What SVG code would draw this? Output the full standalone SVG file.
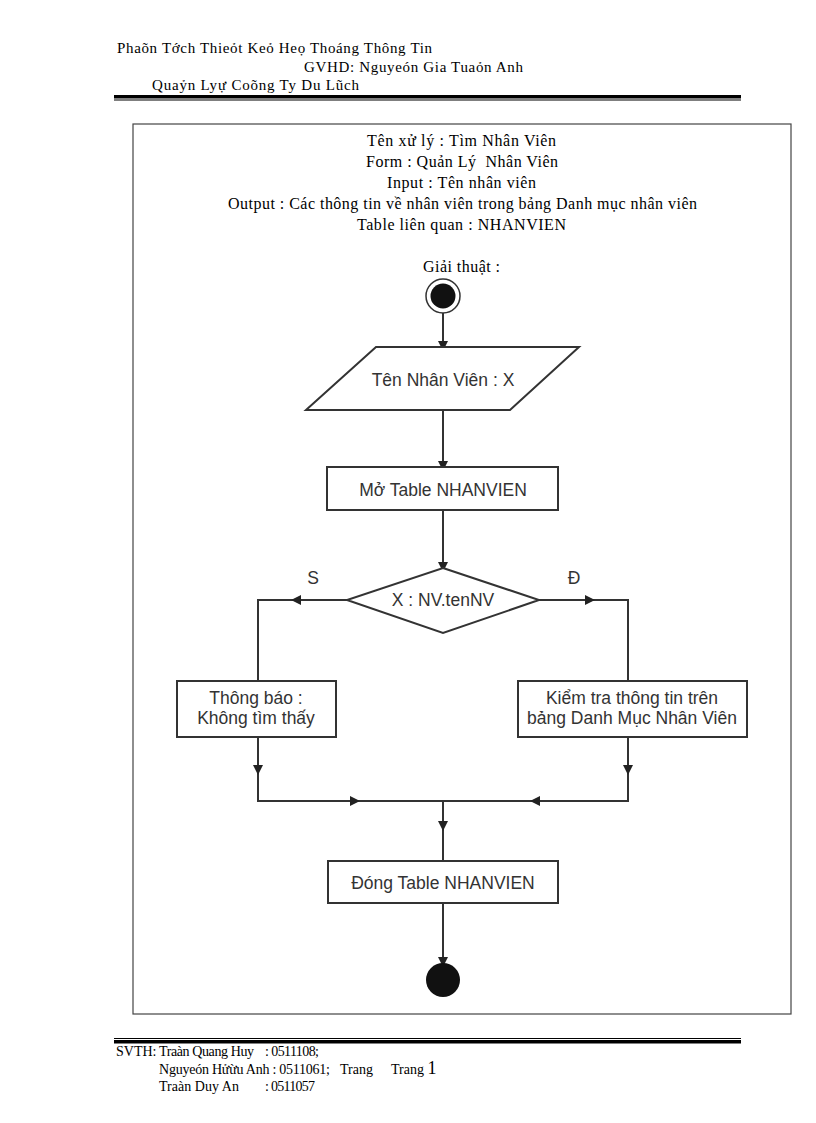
<svg xmlns="http://www.w3.org/2000/svg" width="816" height="1123" viewBox="0 0 816 1123">
<style>
text{white-space:pre}
.hd{font-family:"Liberation Serif","Times New Roman",serif;font-size:15px;fill:#000}
.ft{font-family:"Liberation Serif","Times New Roman",serif;font-size:14px;fill:#000}
.ti{font-family:"Liberation Serif","Times New Roman",serif;font-size:16px;fill:#000}
.nt{font-family:"Liberation Sans",Arial,sans-serif;font-size:17.5px;fill:#333;text-anchor:middle}
.sh{fill:#fff;stroke:#333;stroke-width:2}
.ln{fill:none;stroke:#333;stroke-width:2}
</style>
<defs>
<marker id="ah" viewBox="0 0 10 10" refX="5" refY="5" markerWidth="10" markerHeight="10" markerUnits="userSpaceOnUse" orient="auto">
<path d="M0,0 L10,5 L0,10 z" fill="#222"/>
</marker>
</defs>
<rect width="816" height="1123" fill="#fff"/>
<g id="header">
<text class="hd" x="117" y="53" textLength="315" lengthAdjust="spacing">Phaõn Tớch Thieỏt Keỏ Heọ Thoáng Thông Tin</text>
<text class="hd" x="304" y="72" textLength="219" lengthAdjust="spacing">GVHD: Nguyeón Gia Tuaỏn Anh</text>
<text class="hd" x="152" y="90" textLength="207" lengthAdjust="spacing">Quaỷn Lyự Coõng Ty Du Lũch</text>
<rect x="114" y="95" width="627" height="3.5" fill="#000"/>
<rect x="114" y="99.5" width="627" height="1" fill="#000"/>
</g>
<rect id="frame" x="133" y="124" width="658" height="890" fill="none" stroke="#444" stroke-width="1.2"/>
<g id="title">
<text class="ti" x="367" y="146" textLength="189" lengthAdjust="spacing">Tên xử lý : Tìm Nhân Viên</text>
<text class="ti" x="366" y="167" textLength="192" lengthAdjust="spacing">Form : Quản Lý  Nhân Viên</text>
<text class="ti" x="387" y="188" textLength="149" lengthAdjust="spacing">Input : Tên nhân viên</text>
<text class="ti" x="228" y="209" textLength="469" lengthAdjust="spacing">Output : Các thông tin về nhân viên trong bảng Danh mục nhân viên</text>
<text class="ti" x="357" y="230" textLength="209" lengthAdjust="spacing">Table liên quan : NHANVIEN</text>
<text class="ti" x="423" y="272" textLength="77" lengthAdjust="spacing">Giải thuật :</text>
</g>
<g id="connectors">
<line class="ln" x1="443" y1="313" x2="443" y2="346" marker-end="url(#ah)"/>
<line class="ln" x1="443" y1="410" x2="443" y2="466" marker-end="url(#ah)"/>
<line class="ln" x1="443" y1="510" x2="443" y2="567" marker-end="url(#ah)"/>
<path class="ln" d="M347,600 H258 V681"/>
<line class="ln" x1="347" y1="600" x2="296" y2="600" marker-end="url(#ah)"/>
<path class="ln" d="M539,600 H628 V681"/>
<line class="ln" x1="539" y1="600" x2="590" y2="600" marker-end="url(#ah)"/>
<path class="ln" d="M258,737 V801 H443"/>
<line class="ln" x1="258" y1="737" x2="258" y2="770" marker-end="url(#ah)"/>
<line class="ln" x1="258" y1="801" x2="355" y2="801" marker-end="url(#ah)"/>
<path class="ln" d="M628,737 V801 H443"/>
<line class="ln" x1="628" y1="737" x2="628" y2="770" marker-end="url(#ah)"/>
<line class="ln" x1="628" y1="801" x2="535" y2="801" marker-end="url(#ah)"/>
<line class="ln" x1="443" y1="801" x2="443" y2="861"/>
<line class="ln" x1="443" y1="801" x2="443" y2="826" marker-end="url(#ah)"/>
<line class="ln" x1="443" y1="903" x2="443" y2="962" marker-end="url(#ah)"/>
</g>
<g id="start">
<circle cx="443" cy="296" r="17" fill="#fff" stroke="#333" stroke-width="1.5"/>
<circle cx="443" cy="296" r="12.5" fill="#111"/>
</g>
<g id="input">
<polygon class="sh" points="376,347 579,347 510,410 306,410"/>
<text class="nt" x="443" y="386">Tên Nhân Viên : X</text>
</g>
<g id="open">
<rect class="sh" x="327" y="467" width="231" height="43"/>
<text class="nt" x="443" y="496">Mở Table NHANVIEN</text>
</g>
<g id="decision">
<polygon class="sh" points="443,568 539,600 443,633 347,600"/>
<text class="nt" x="443" y="606">X : NV.tenNV</text>
<text class="nt" x="313" y="584">S</text>
<text class="nt" x="574" y="584">Đ</text>
</g>
<g id="notfound">
<rect class="sh" x="177" y="681" width="159" height="56"/>
<text class="nt" x="256" y="704">Thông báo :</text>
<text class="nt" x="256" y="724">Không tìm thấy</text>
</g>
<g id="check">
<rect class="sh" x="518" y="681" width="229" height="56"/>
<text class="nt" x="632" y="704">Kiểm tra thông tin trên</text>
<text class="nt" x="632" y="724">bảng Danh Mục Nhân Viên</text>
</g>
<g id="close">
<rect class="sh" x="328" y="861" width="230" height="42"/>
<text class="nt" x="443" y="889">Đóng Table NHANVIEN</text>
</g>
<g id="end">
<circle cx="443" cy="980" r="17" fill="#111"/>
</g>
<g id="footer">
<rect x="114" y="1038" width="627" height="1" fill="#000"/>
<rect x="114" y="1040" width="627" height="3.5" fill="#000"/>
<text class="ft" x="116" y="1056">SVTH:</text>
<text class="ft" x="159" y="1056" textLength="95" lengthAdjust="spacing">Traàn Quang Huy</text>
<text class="ft" x="265" y="1056" textLength="54" lengthAdjust="spacing">: 0511108;</text>
<text class="ft" x="159" y="1074" textLength="171" lengthAdjust="spacing">Nguyeón Hửừu Anh : 0511061;</text>
<text class="ft" x="340" y="1074">Trang</text>
<text class="ft" x="391" y="1074">Trang <tspan font-size="18">1</tspan></text>
<text class="ft" x="159" y="1091" textLength="80" lengthAdjust="spacing">Traàn Duy An</text>
<text class="ft" x="265" y="1091" textLength="50" lengthAdjust="spacing">: 0511057</text>
</g>
</svg>
